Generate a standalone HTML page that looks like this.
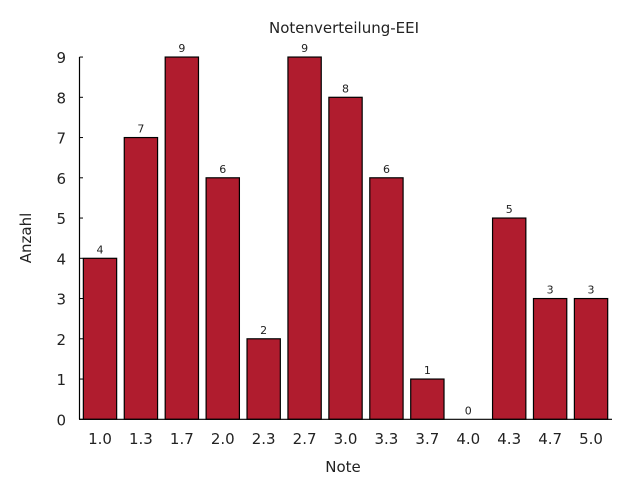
<!DOCTYPE html>
<html><head><meta charset="utf-8"><style>
body{margin:0;background:#fff;}
svg{display:block;font-family:"DejaVu Sans","Liberation Sans",sans-serif;}
</style></head><body>
<svg id="chart" width="640" height="480">
<text x="344" y="33" font-size="15" text-anchor="middle" fill="#222">Notenverteilung-EEI</text>
<text x="343" y="472" font-size="15" text-anchor="middle" fill="#222">Note</text>
<text transform="translate(31,238) rotate(-90)" font-size="15" text-anchor="middle" fill="#222">Anzahl</text>
<g id="bars"></g>
</svg>
<script>
const categories=["1.0","1.3","1.7","2.0","2.3","2.7","3.0","3.3","3.7","4.0","4.3","4.7","5.0"];
const counts=[4,7,9,6,2,9,8,6,1,0,5,3,3];
const yTicks=[0,1,2,3,4,5,6,7,8,9];
const NS="http://www.w3.org/2000/svg";
const svg=document.getElementById('chart');
const g=document.getElementById('bars');
const y0=419.3, unit=40.25, x0=100, step=40.92, bw=33.3;
const yS=v=>y0-v*unit;
const xS=i=>x0+i*step;
function mk(t,a,p){const e=document.createElementNS(NS,t);for(const k in a)e.setAttribute(k,a[k]);(p||svg).appendChild(e);return e;}
yTicks.forEach(v=>{
  const t=mk('line',{x1:79.5,x2:83,y1:yS(v),y2:yS(v),stroke:'#000','stroke-width':1});
  
  
  const l=mk('text',{x:66,y:yS(v)+6,'font-size':15,'text-anchor':'end',fill:'#222'});
  l.textContent=v;
  
  
});
categories.forEach((c,i)=>{
  const v=counts[i];
  const r=mk('rect',{x:xS(i)-bw/2,y:yS(v),width:bw,height:v*unit,fill:'#b01c2e',stroke:'#000','stroke-width':1.2},g);
  
  
  const vl=mk('text',{x:xS(i),y:yS(v)-5,'font-size':11,'text-anchor':'middle',fill:'#222'});
  vl.textContent=v;
  
  
  const xl=mk('text',{x:xS(i),y:444,'font-size':15,'text-anchor':'middle',fill:'#222'});
  xl.textContent=c;
  
  
});
const ya=mk('line',{x1:79.5,x2:79.5,y1:yS(9),y2:y0,stroke:'#000','stroke-width':1.2});


const xa=mk('line',{x1:79,x2:612,y1:y0,y2:y0,stroke:'#000','stroke-width':1.2});


</script>
</body></html>
